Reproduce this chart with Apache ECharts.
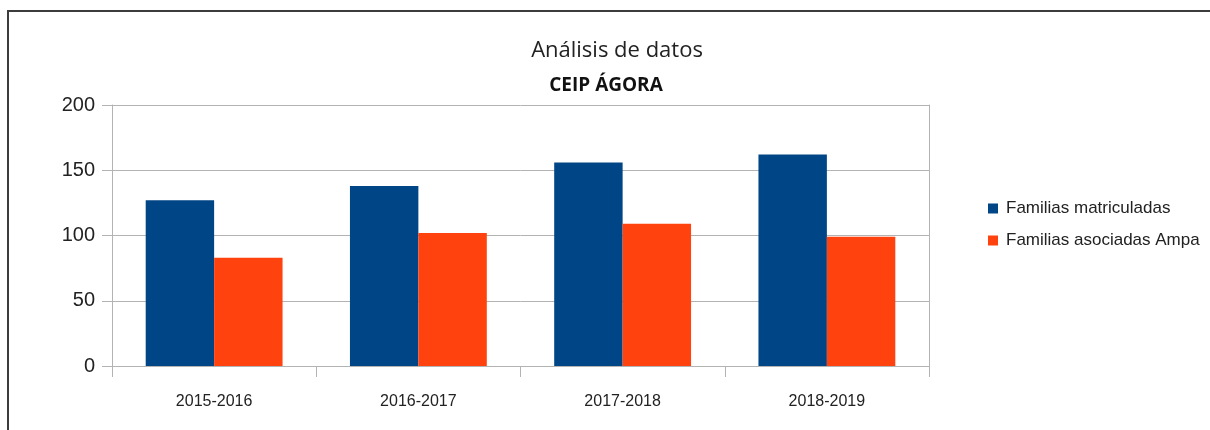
<!DOCTYPE html>
<html>
<head>
<meta charset="utf-8">
<script src="https://cdn.jsdelivr.net/npm/echarts@6/dist/echarts.min.js"></script>
<style>
  html, body { margin: 0; padding: 0; background: #fff; }
  #chart { width: 1210px; height: 430px; }
</style>
</head>
<body>
<div id="chart"></div>
<script>
var cursos = ['2015-2016', '2016-2017', '2017-2018', '2018-2019'];
var matriculadas = [127, 138, 156, 162];
var asociadas = [83, 102, 109, 99];
var yTicks = [0, 50, 100, 150, 200];

var mychart = echarts.init(document.getElementById('chart'));
var gris = '#b3b3b3';
var option = {
  animation: false,
  textStyle: { fontFamily: 'Liberation Sans, Arial, sans-serif' },
  title: [
    {
      text: 'Análisis de datos',
      left: 612, top: 35, textAlign: 'center',
      textStyle: { fontFamily: 'Open Sans', fontSize: 22, fontWeight: 'normal', color: '#222' }
    },
    {
      text: 'CEIP ÁGORA',
      left: 601, top: 71, textAlign: 'center',
      textStyle: { fontFamily: 'Open Sans', fontSize: 19, fontWeight: 'bold', color: '#111' }
    }
  ],
  legend: {
    orient: 'vertical',
    left: 983, top: 195,
    itemWidth: 10, itemHeight: 10, itemGap: 15,
    icon: 'rect',
    textStyle: { fontSize: 17, color: '#222', padding: [0, 0, 0, 3] },
    data: ['Familias matriculadas', 'Familias asociadas Ampa']
  },
  grid: { left: 112, right: 281, top: 105, bottom: 64 },
  xAxis: {
    type: 'category',
    data: cursos,
    axisLine: { lineStyle: { color: gris } },
    axisTick: { show: true, length: 11, lineStyle: { color: gris } },
    axisLabel: { fontSize: 16, color: '#222', margin: 28 }
  },
  yAxis: [
    {
      type: 'value',
      min: yTicks[0], max: yTicks[yTicks.length - 1], interval: 50,
      axisLine: { show: true, lineStyle: { color: gris } },
      axisTick: { show: true, length: 10, lineStyle: { color: gris } },
      axisLabel: { fontSize: 20, color: '#222', margin: 17 },
      splitLine: { lineStyle: { color: gris } }
    },
    {
      type: 'value',
      position: 'right',
      min: 0, max: 200, interval: 50,
      axisLine: { show: true, lineStyle: { color: gris } },
      axisTick: { show: false },
      axisLabel: { show: false },
      splitLine: { show: false }
    }
  ],
  series: [
    {
      name: 'Familias matriculadas',
      type: 'bar',
      data: matriculadas,
      barGap: '0%',
      barCategoryGap: '33%',
      itemStyle: { color: '#004586' }
    },
    {
      name: 'Familias asociadas Ampa',
      type: 'bar',
      data: asociadas,
      itemStyle: { color: '#ff420e' }
    }
  ],
  graphic: [
    {
      type: 'rect',
      shape: { x: 8, y: 11, width: 1400, height: 600 },
      style: { fill: 'none', stroke: '#3c3c3c', lineWidth: 2 },
      silent: true
    }
  ]
};
mychart.setOption(option);
</script>
</body>
</html>
